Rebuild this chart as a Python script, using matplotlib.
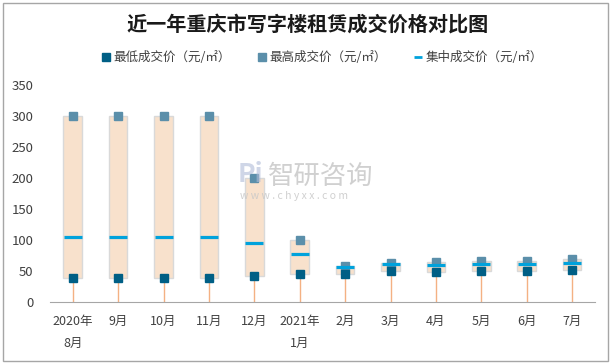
import matplotlib.pyplot as plt
from matplotlib.patches import Rectangle

plt.rcParams['font.family'] = ['Noto Sans CJK SC', 'DejaVu Sans']

months = ["2020年\n8月", "9月", "10月", "11月", "12月", "2021年\n1月",
          "2月", "3月", "4月", "5月", "6月", "7月"]
low_price = [39, 39, 39, 39, 43, 46, 45, 51, 48, 50, 50, 52]
high_price = [300, 300, 300, 300, 200, 100, 58, 64, 65, 67, 67, 69]
mid_price = [105, 105, 105, 105, 95, 77, 56, 61, 60, 61, 61, 63]

fig = plt.figure(figsize=(6.15, 3.64), dpi=100)
ax = fig.add_axes([0.0813, 0.1695, 0.886, 0.5978])

x = list(range(len(months)))
box_w = 0.41

# drop lines from axis up to the low price
ax.vlines(x, 0, low_price, color='#F4B183', lw=1, zorder=1)

# peach boxes spanning low..high
for i in x:
    ax.add_patch(Rectangle((i - box_w / 2, low_price[i]), box_w,
                           high_price[i] - low_price[i],
                           facecolor='#F8E1CC', edgecolor='#D9D9D9',
                           lw=1, zorder=2))

ax.plot(x, low_price, 's', color='#005F85', ms=5.2, zorder=4,
        label='最低成交价（元/㎡）')
ax.plot(x, high_price, 's', color='#5B8FAA', ms=5.2, zorder=3,
        label='最高成交价（元/㎡）')
ax.plot(x, mid_price, '_', color='#00A2DC', ms=12.5, mew=2.3, zorder=5,
        label='集中成交价（元/㎡）')

ax.set_xlim(-0.5, len(months) - 0.5)
ax.set_ylim(0, 350)
ax.set_yticks(range(0, 351, 50))
ax.set_xticks(x)
ax.set_xticklabels(months, fontsize=9, color='#404040', linespacing=1.9)
ax.tick_params(axis='y', length=0, pad=12, labelsize=9.5, labelcolor='#404040')
ax.tick_params(axis='x', length=0, pad=9)

for s in ['top', 'right', 'left']:
    ax.spines[s].set_visible(False)
ax.spines['bottom'].set_color('#A6A6A6')
ax.spines['bottom'].set_linestyle((0, (2, 1)))

fig.text(0.5, 0.935, '近一年重庆市写字楼租赁成交价格对比图', ha='center', va='center',
         fontsize=14.5, fontweight='bold', color='#1a1a1a')

leg = ax.legend(loc='center', bbox_to_anchor=(0.5, 1.125), ncol=3, frameon=False,
                fontsize=9, handlelength=0.6, handletextpad=0.3,
                columnspacing=2.2)
leg.legend_handles[2].set_markersize(5.5)
leg.legend_handles[2].set_markeredgewidth(2)
for t in leg.get_texts():
    t.set_color('#404040')

# watermark
fig.text(0.435, 0.515, '智研咨询', fontsize=19, color='#C8C8C8', alpha=0.85,
         ha='left', va='center')
fig.text(0.39, 0.462, 'w w w . c h y x x . c o m', fontsize=7.5,
         color='#C8C8C8', alpha=0.85, ha='left', va='center')
fig.text(0.387, 0.52, 'Pi', fontsize=19, color='#B0BCD8', alpha=0.6,
         ha='left', va='center', fontweight='bold')

fig.add_artist(Rectangle((3 / 615, 3 / 364), 605 / 615, 358 / 364,
                         transform=fig.transFigure, fill=False,
                         edgecolor='#A6A6A6', lw=1))

fig.savefig('out.png', dpi=100)
